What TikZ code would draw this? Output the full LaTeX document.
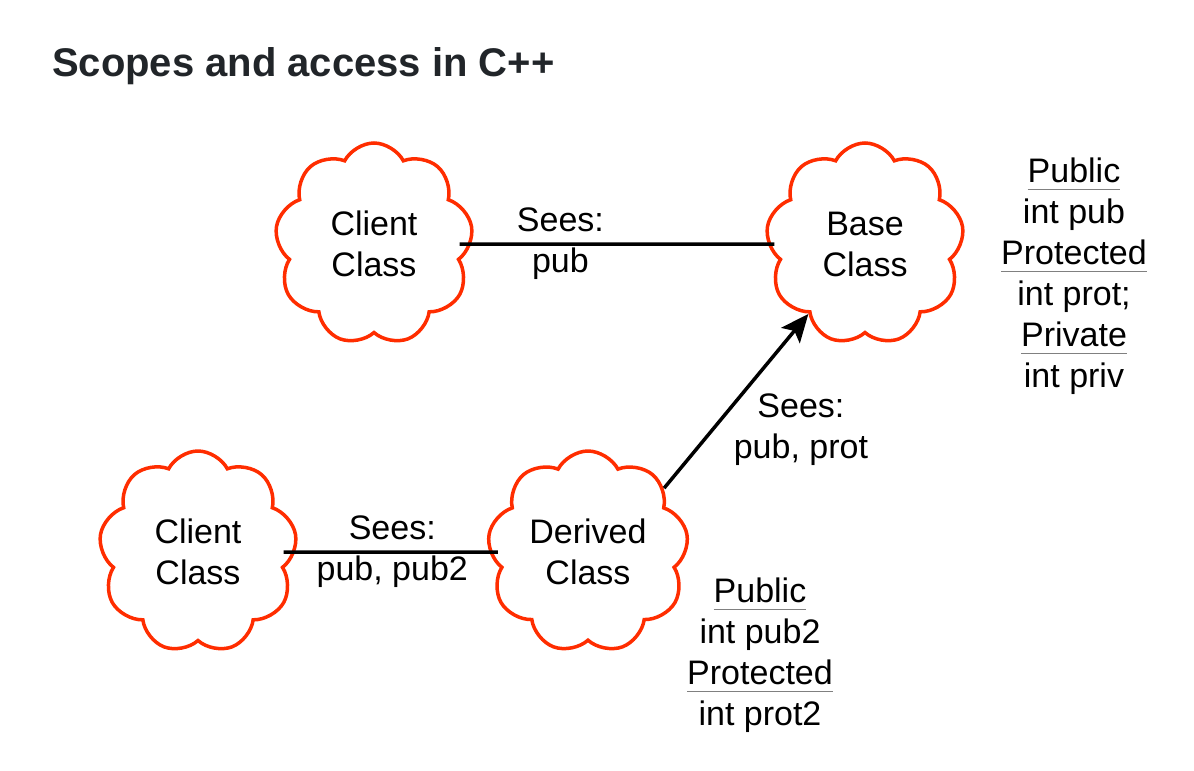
\documentclass[tikz,border=0pt]{standalone}
\usepackage{fontspec}
\setmainfont{Liberation Sans}
\usetikzlibrary{shapes.symbols,arrows.meta,positioning}
\definecolor{cloudred}{RGB}{255,45,0}
\definecolor{titlegray}{RGB}{33,37,41}
\newcommand{\accline}[1]{\setbox0\hbox{#1}\rlap{\color{gray}\rule[-8pt]{\wd0}{1.4pt}}\box0}

\begin{document}
\begin{tikzpicture}[x=1pt,y=-1pt,line width=3.5pt,
  class node/.style={cloud,cloud puffs=9,cloud puff arc=125,aspect=1,draw=cloudred,line width=3.5pt,
    minimum width=198pt,minimum height=202pt,align=center,
    font=\fontsize{34}{41}\selectfont},
  sees/.style={align=center,font=\fontsize{34}{41}\selectfont,inner sep=2pt},
  access/.style={align=center,font=\fontsize{34}{41}\selectfont}]
   \useasboundingbox (0,0) rectangle (1194,771);
   \node[anchor=base west,font=\fontsize{40}{48}\selectfont\bfseries,text=titlegray] (title) at (47,76) {Scopes and access in C++};
   % the four classes
   \node[class node] (client1) at (374,244) {Client\\Class};
   \node[class node] (base) at (865,244) {Base\\Class};
   \node[class node] (client2) at (198,552) {Client\\Class};
   \node[class node] (derived) at (588,552) {Derived\\Class};
   % access lists
   \node[access] (baseacc) at (1074,276) {\accline{Public}\\int pub\\\accline{Protected}\\int prot;\\\accline{Private}\\int priv};
   \node[access] (derivedacc) at (760,655) {\accline{Public}\\int pub2\\\accline{Protected}\\int prot2};
   % what each class sees
   \draw[shorten <=-12pt,shorten >=-7pt] (client1.0) -- node[sees,pos=0.3] {Sees:\\pub} (base.180);
   \draw[shorten <=-12pt,shorten >=-9pt] (client2.0) -- node[sees] {Sees:\\pub, pub2} (derived.180);
   \draw[-{Stealth[length=28pt,width=24pt,inset=6pt]}] (derived.40) -- node[sees,pos=0.36,anchor=west,xshift=14pt,yshift=-4pt] {Sees:\\pub, prot} (base.231);
\end{tikzpicture}
\end{document}
